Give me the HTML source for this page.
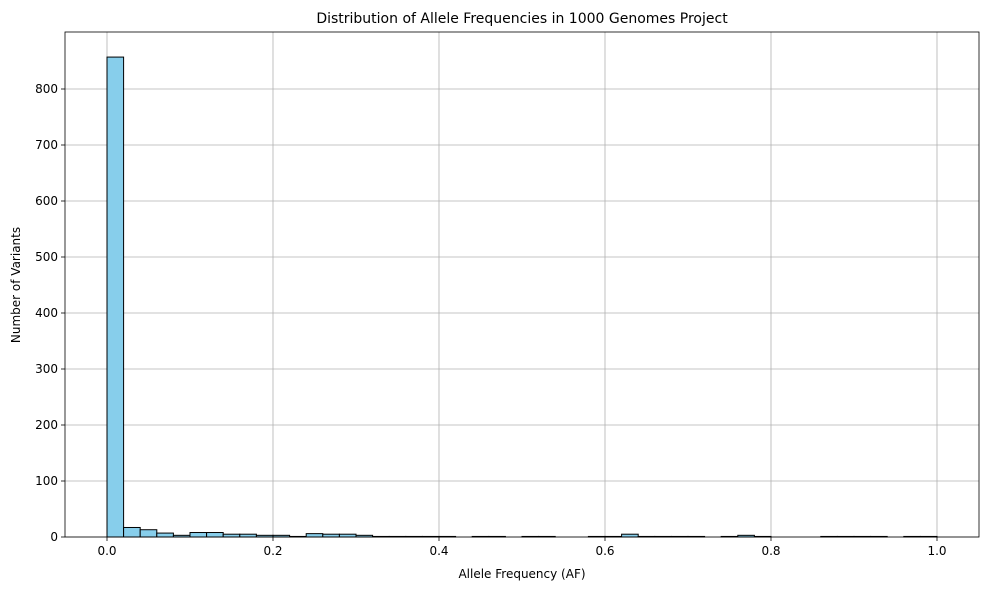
<!DOCTYPE html>
<html><head><meta charset="utf-8"><style>body{margin:0;background:#fff}svg{font-family:"DejaVu Sans","Liberation Sans",sans-serif}</style></head>
<body>
<svg id="chart" width="989" height="590" xmlns="http://www.w3.org/2000/svg">
<text x="522" y="23" font-size="14" text-anchor="middle">Distribution of Allele Frequencies in 1000 Genomes Project</text>
<text x="522" y="578" font-size="12" text-anchor="middle">Allele Frequency (AF)</text>
<text x="20" y="285" font-size="12" text-anchor="middle" transform="rotate(-90 20 285)">Number of Variants</text>
<g id="grid"></g><g id="bars"></g><g id="axes"></g>
</svg>
<script>
const counts = [857,17,13,7,3,8,8,5,5,3,3,1,6,5,5,3,1,1,1,1,1,0,1,1,0,1,1,0,0,1,1,5,1,1,1,1,0,1,3,1,0,0,0,1,1,1,1,0,1,1];
const xTicks = [0,0.2,0.4,0.6,0.8,1.0];
const xTickLabels = ["0.0","0.2","0.4","0.6","0.8","1.0"];
const yTicks = [0,100,200,300,400,500,600,700,800];
const binWidth = 0.02;
const L=65,R=979,T=32,B=537;
const xs=v=>107+v*830;
const ys=v=>537-v*0.56;
const NS="http://www.w3.org/2000/svg";
function mk(tag,attrs,parent){const e=document.createElementNS(NS,tag);for(const k in attrs)e.setAttribute(k,attrs[k]);parent.appendChild(e);return e;}
const grid=document.getElementById('grid'),bars=document.getElementById('bars'),axes=document.getElementById('axes');
xTicks.forEach((t,i)=>{
  const l=mk('line',{x1:xs(t),x2:xs(t),y1:T,y2:B,stroke:'#b0b0b0','stroke-width':0.8},grid);
  
  
  const tk=mk('line',{x1:xs(t),x2:xs(t),y1:B,y2:B+4,stroke:'#000','stroke-width':0.8},axes);
  
  
  const tx=mk('text',{x:xs(t),y:B+18,'font-size':12,'text-anchor':'middle'},axes);
  tx.textContent=xTickLabels[i];
  
  
});
yTicks.forEach(t=>{
  const l=mk('line',{x1:L,x2:R,y1:ys(t),y2:ys(t),stroke:'#b0b0b0','stroke-width':0.8},grid);
  
  
  const tk=mk('line',{x1:L-4,x2:L,y1:ys(t),y2:ys(t),stroke:'#000','stroke-width':0.8},axes);
  
  
  const tx=mk('text',{x:L-7,y:ys(t)+4,'font-size':12,'text-anchor':'end'},axes);
  tx.textContent=String(t);
  
  
});
counts.forEach((c,i)=>{
  const x0=xs(i*binWidth),x1=xs((i+1)*binWidth);
  const r=mk('rect',{x:x0,y:ys(c),width:x1-x0,height:ys(0)-ys(c),fill:'#87ceeb',stroke:'#000','stroke-width':1},bars);
  
  
});
const f=mk('rect',{x:L,y:T,width:R-L,height:B-T,fill:'none',stroke:'#000','stroke-width':0.8},axes);


</script>
</body></html>
